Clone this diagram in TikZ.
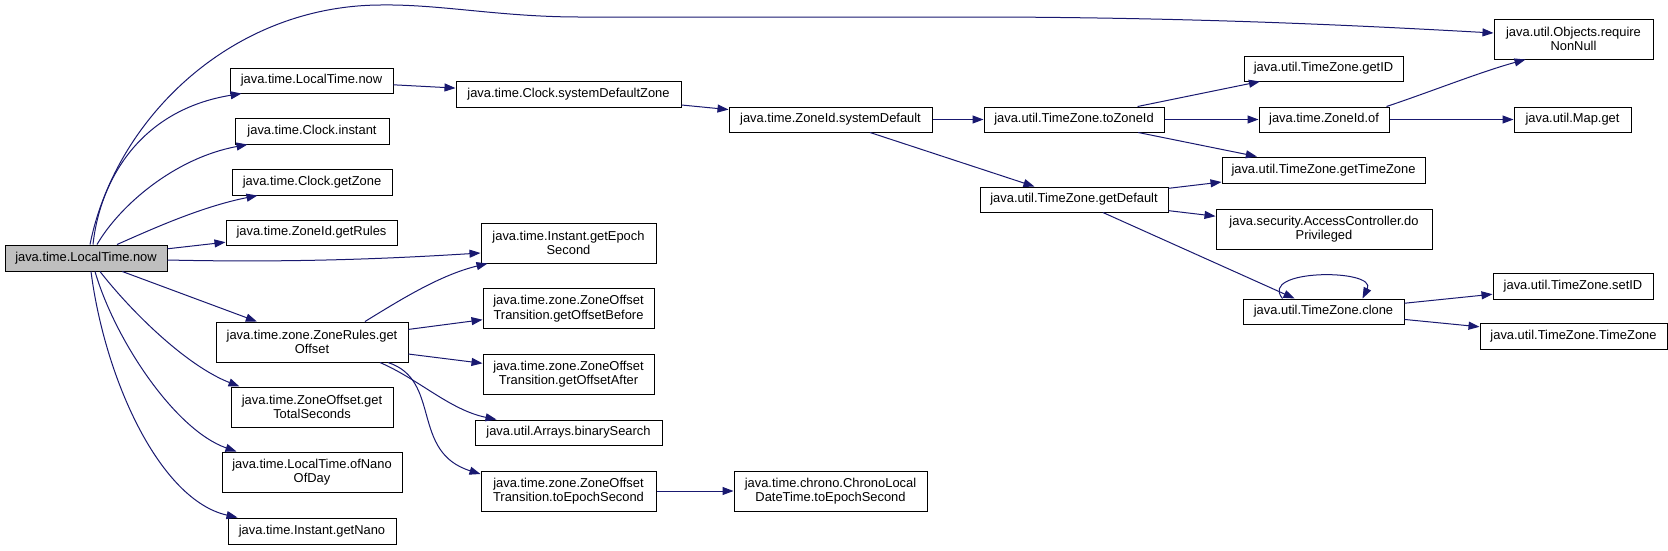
\documentclass[tikz,border=0pt]{standalone}
\usepackage{fontspec}
\setmainfont{Liberation Sans}
\usetikzlibrary{arrows.meta,calc}
\definecolor{edgeblue}{HTML}{191970}
\definecolor{rootgray}{HTML}{BFBFBF}
\tikzset{
  box/.style={draw=black, line width=1pt, inner sep=0pt, align=center, fill=white,
    font=\fontsize{12.9}{14.5}\selectfont},
  rootbox/.style={box, fill=rootgray},
  edge/.style={draw=edgeblue, line width=1pt, -{Triangle[length=11pt,width=8pt]}}
}
\begin{document}
\begin{tikzpicture}[x=1pt,y=-1pt]
\useasboundingbox[fill=white] (0,0) rectangle (1668,550);
% column 0
\node[rootbox, minimum width=162, minimum height=26] (root) at (86,258) {java.time.LocalTime.now};
% column 1
\node[box, minimum width=163, minimum height=25] (ltnow) at (311.5,80.5) {java.time.LocalTime.now};
\node[box, minimum width=154, minimum height=26] (cinst) at (312,131) {java.time.Clock.instant};
\node[box, minimum width=160, minimum height=26] (cgz) at (312,182) {java.time.Clock.getZone};
\node[box, minimum width=171, minimum height=25] (zgr) at (311.5,232.5) {java.time.ZoneId.getRules};
\node[box, minimum width=192, minimum height=40] (zrgo) at (312,342) {java.time.zone.ZoneRules.get\\Offset};
\node[box, minimum width=162, minimum height=40] (zogts) at (312,407) {java.time.ZoneOffset.get\\TotalSeconds};
\node[box, minimum width=180, minimum height=40] (ofnano) at (312,472) {java.time.LocalTime.ofNano\\OfDay};
\node[box, minimum width=168, minimum height=26] (getnano) at (312,531) {java.time.Instant.getNano};
% column 2
\node[box, minimum width=225, minimum height=26] (csdz) at (568.5,94) {java.time.Clock.systemDefaultZone};
\node[box, minimum width=175, minimum height=40] (iges) at (568.5,243) {java.time.Instant.getEpoch\\Second};
\node[box, minimum width=171, minimum height=40] (zotb) at (568.5,308.5) {java.time.zone.ZoneOffset\\Transition.getOffsetBefore};
\node[box, minimum width=171, minimum height=40] (zota) at (568.5,374) {java.time.zone.ZoneOffset\\Transition.getOffsetAfter};
\node[box, minimum width=187, minimum height=25] (abs) at (568.5,432.5) {java.util.Arrays.binarySearch};
\node[box, minimum width=175, minimum height=40] (zotes) at (568.5,491) {java.time.zone.ZoneOffset\\Transition.toEpochSecond};
% column 3
\node[box, minimum width=203, minimum height=25] (zsd) at (830.5,119.5) {java.time.ZoneId.systemDefault};
\node[box, minimum width=193, minimum height=40] (cldt) at (830.5,491) {java.time.chrono.ChronoLocal\\DateTime.toEpochSecond};
% column 4
\node[box, minimum width=180, minimum height=25] (tzzid) at (1074,119.5) {java.util.TimeZone.toZoneId};
\node[box, minimum width=188, minimum height=25] (tzgd) at (1074,199.5) {java.util.TimeZone.getDefault};
% column 5
\node[box, minimum width=159, minimum height=25] (tzgid) at (1323.5,68.5) {java.util.TimeZone.getID};
\node[box, minimum width=130, minimum height=25] (zof) at (1324,119.5) {java.time.ZoneId.of};
\node[box, minimum width=203, minimum height=26] (tzgtz) at (1323.5,170) {java.util.TimeZone.getTimeZone};
\node[box, minimum width=216, minimum height=40] (acdp) at (1324,229) {java.security.AccessController.do\\Privileged};
\node[box, minimum width=161, minimum height=25] (tzclone) at (1323.5,311.5) {java.util.TimeZone.clone};
% column 6
\node[box, minimum width=159, minimum height=40] (onn) at (1573.5,39) {java.util.Objects.require\\NonNull};
\node[box, minimum width=117, minimum height=25] (mapget) at (1572.5,119.5) {java.util.Map.get};
\node[box, minimum width=160, minimum height=26] (tzsetid) at (1573,286) {java.util.TimeZone.setID};
\node[box, minimum width=187, minimum height=26] (tztz) at (1573.5,336) {java.util.TimeZone.TimeZone};

% edges from root
\draw[edge] ($(root.north)+(4,0)$) .. controls (115,120) and (230,6) .. (380,5)
  .. controls (440,4) and (500,17) .. (580,17) -- (1000,17)
  .. controls (1200,18) and (1350,25) .. ($(onn.west)+(0,-6)$);
\draw[edge] ($(root.north)+(7,0)$) .. controls (100,180) and (140,110) .. ($(ltnow.south west)+(12,0)$);
\draw[edge] ($(root.north)+(11,0)$) .. controls (120,205) and (175,158) .. ($(cinst.south west)+(13,0)$);
\draw[edge] ($(root.north)+(31,0)$) .. controls (150,230) and (200,207) .. ($(cgz.south west)+(26,0)$);
\draw[edge] (root) -- (zgr);
\draw[edge] ($(root.east)+(0,2)$) .. controls (300,263) and (400,258) .. ($(iges.west)+(0,10)$);
\draw[edge] (root) -- (zrgo);
\draw[edge] ($(root.south)+(14,0)$) .. controls (130,310) and (185,365) .. ($(zogts.north west)+(9,0)$);
\draw[edge] ($(root.south)+(9,0)$) .. controls (115,340) and (175,430) .. ($(ofnano.north west)+(15,0)$);
\draw[edge] ($(root.south)+(5,0)$) .. controls (105,380) and (160,500) .. ($(getnano.north west)+(10,0)$);

% column 1 -> 2
\draw[edge] (ltnow) -- (csdz);
\draw[edge] ($(zrgo.north)+(53,0)$) .. controls (400,300) and (440,275) .. ($(iges.south west)+(7,0)$);
\draw[edge] (zrgo) -- (zotb);
\draw[edge] (zrgo) -- (zota);
\draw[edge] ($(zrgo.south)+(68,0)$) .. controls (420,380) and (450,410) .. ($(abs.north west)+(22,0)$);
\draw[edge] ($(zrgo.south)+(76,0)$) .. controls (442,380) and (410,452) .. ($(zotes.west)+(0,-17)$);

% column 2 -> 3
\draw[edge] (csdz) -- (zsd);
\draw[edge] (zotes) -- (cldt);

% column 3 -> 4
\draw[edge] (zsd) -- (tzzid);
\draw[edge] (zsd) -- (tzgd);

% column 4 -> 5
\draw[edge] (tzzid) -- (tzgid);
\draw[edge] (tzzid) -- (zof);
\draw[edge] (tzzid) -- (tzgtz);
\draw[edge] (tzgd) -- (tzgtz);
\draw[edge] (tzgd) -- (acdp);
\draw[edge] (tzgd) -- (tzclone);

% column 5 -> 6
\draw[edge] ($(zof.north east)+(-3,0)$) .. controls (1430,92) and (1480,72) .. ($(onn.south west)+(32,0)$);
\draw[edge] (zof) -- (mapget);
\draw[edge] ($(tzclone.north west)+(40,0)$) .. controls +(-25,-30) and +(15,-30) .. ($(tzclone.north west)+(120,0)$);
\draw[edge] (tzclone) -- (tzsetid);
\draw[edge] (tzclone) -- (tztz);
\end{tikzpicture}
\end{document}
